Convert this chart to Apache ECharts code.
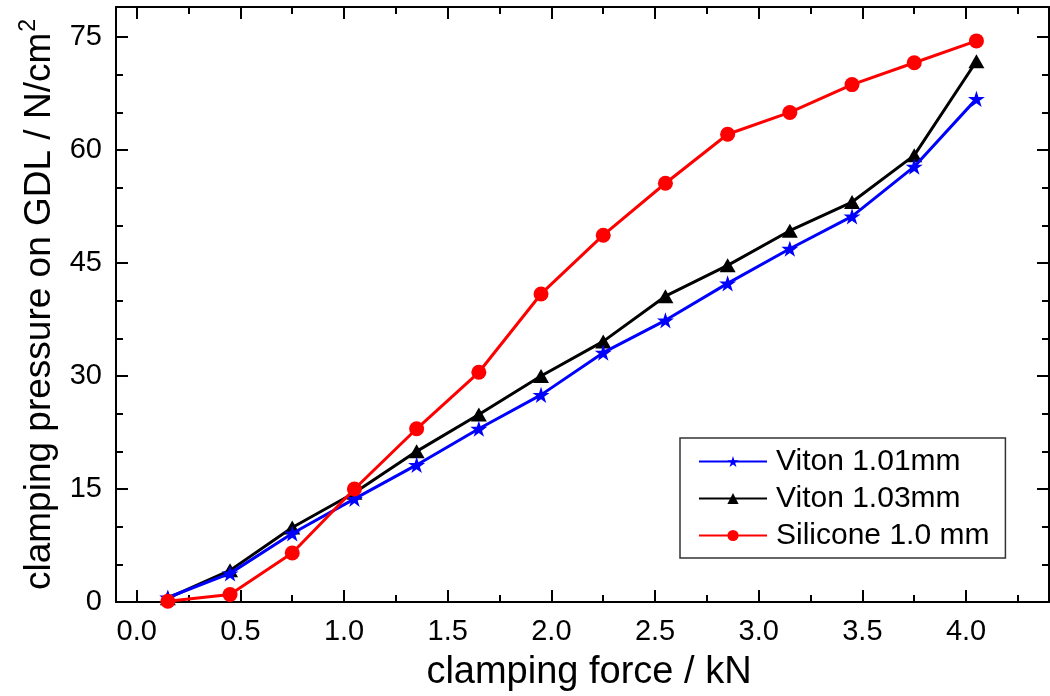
<!DOCTYPE html>
<html>
<head>
<meta charset="utf-8">
<script src="https://cdn.jsdelivr.net/npm/echarts@6/dist/echarts.min.js"></script>
<style>
html,body{margin:0;padding:0;background:#fff;}
#chart{width:1050px;height:696px;}
</style>
</head>
<body>
<div id="chart"></div>
<script>
// ---- data ----
const force = [0.15, 0.45, 0.75, 1.05, 1.35, 1.65, 1.95, 2.25, 2.55, 2.85, 3.15, 3.45, 3.75, 4.05];
const viton101 = [0.6, 3.8, 9.1, 13.7, 18.2, 23.0, 27.5, 33.1, 37.4, 42.3, 46.9, 51.2, 57.8, 66.8];
const viton103 = [0.5, 4.2, 9.9, 14.5, 20.0, 24.9, 30.0, 34.6, 40.6, 44.7, 49.3, 53.1, 59.3, 71.8];
const silicone = [0.1, 1.0, 6.5, 15.0, 23.0, 30.5, 40.9, 48.7, 55.6, 62.1, 65.0, 68.7, 71.6, 74.5];
const seriesNames = ['Viton 1.01mm', 'Viton 1.03mm', 'Silicone 1.0 mm'];
const xMajor = [0, 0.5, 1.0, 1.5, 2.0, 2.5, 3.0, 3.5, 4.0];
const xMinor = [0.25, 0.75, 1.25, 1.75, 2.25, 2.75, 3.25, 3.75, 4.25];
const yMajor = [0, 15, 30, 45, 60, 75];
const yMinor = [5, 10, 20, 25, 35, 40, 50, 55, 65, 70];

const FONT = "'Liberation Sans', Arial, sans-serif";
const star = 'path://M0,-10 L2.245,-3.09 L9.511,-3.09 L3.633,1.18 L5.878,8.09 L0,3.82 L-5.878,8.09 L-3.633,1.18 L-9.511,-3.09 L-2.245,-3.09 Z';

function pairs(ys) { return force.map((x, i) => [x, ys[i]]); }

const lineSty = { color: '#000', width: 2 };

function xAx(pos, ticks, len, withLine, withLabels, extra) {
  return Object.assign({
    type: 'value', position: pos, min: -0.1, max: 4.4, gridIndex: 0,
    axisLine: { show: withLine, onZero: false, lineStyle: lineSty },
    axisTick: { show: true, inside: true, length: len, customValues: ticks, lineStyle: { color: '#000', width: 2 } },
    axisLabel: withLabels ? { show: true, customValues: xMajor, formatter: v => v.toFixed(1), fontSize: 29, fontFamily: FONT, color: '#000', margin: 15 } : { show: false },
    splitLine: { show: false }
  }, extra || {});
}
function yAx(pos, ticks, len, withLine, withLabels, extra) {
  return Object.assign({
    type: 'value', position: pos, min: 0, max: 79, gridIndex: 0,
    axisLine: { show: withLine, onZero: false, lineStyle: lineSty },
    axisTick: { show: true, inside: true, length: len, customValues: ticks, lineStyle: { color: '#000', width: 2 } },
    axisLabel: withLabels ? { show: true, customValues: yMajor, fontSize: 29, fontFamily: FONT, color: '#000', margin: 14 } : { show: false },
    splitLine: { show: false }
  }, extra || {});
}

const chart = echarts.init(document.getElementById('chart'), null, { renderer: 'canvas' });
chart.setOption({
  animation: false,
  backgroundColor: '#fff',
  grid: { left: 116, right: 1, top: 7, bottom: 94, outerBoundsMode: 'none' },
  legend: {
    orient: 'vertical', left: 680, top: 438,
    data: seriesNames,
    itemWidth: 68, itemHeight: 14, itemGap: 6,
    padding: [8, 16, 7, 18],
    borderColor: '#333', borderWidth: 1.5,
    textStyle: { fontSize: 30, fontFamily: FONT, color: '#000', lineHeight: 31, padding: [0, 0, 0, 4] }
  },
  xAxis: [
    xAx('bottom', xMajor, 12, true, true, {
      name: 'clamping force / kN', nameLocation: 'middle', nameGap: 52,
      nameTextStyle: { fontSize: 38, fontFamily: FONT, color: '#000', padding: [0, 0, 0, 13] }
    }),
    xAx('bottom', xMinor, 7, false, false),
    xAx('top', xMajor, 12, true, false),
    xAx('top', xMinor, 7, false, false)
  ],
  yAxis: [
    yAx('left', yMajor, 12, true, true, {
      name: '{a|clamping pressure on GDL / N/cm}{s|2}', nameLocation: 'middle', nameGap: 58, nameRotate: 90,
      nameTextStyle: {
        color: '#000',
        rich: {
          a: { fontSize: 37, fontFamily: FONT, color: '#000', lineHeight: 41, verticalAlign: 'bottom' },
          s: { fontSize: 23, fontFamily: FONT, color: '#000', lineHeight: 41, verticalAlign: 'top', padding: [0, 0, 0, 1] }
        }
      }
    }),
    yAx('left', yMinor, 7, false, false),
    yAx('right', yMajor, 12, true, false),
    yAx('right', yMinor, 7, false, false)
  ],
  series: [
    {
      name: seriesNames[0], type: 'line', data: pairs(viton101), z: 3,
      symbol: star, symbolSize: 17, symbolKeepAspect: true,
      itemStyle: { color: '#0000ff' }, lineStyle: { color: '#0000ff', width: 3 }
    },
    {
      name: seriesNames[1], type: 'line', data: pairs(viton103), z: 2,
      symbol: 'triangle', symbolSize: [16, 14],
      itemStyle: { color: '#000' }, lineStyle: { color: '#000', width: 3 }
    },
    {
      name: seriesNames[2], type: 'line', data: pairs(silicone), z: 4,
      symbol: 'circle', symbolSize: 15,
      itemStyle: { color: '#ff0000' }, lineStyle: { color: '#ff0000', width: 3 }
    }
  ]
});
</script>
</body>
</html>
